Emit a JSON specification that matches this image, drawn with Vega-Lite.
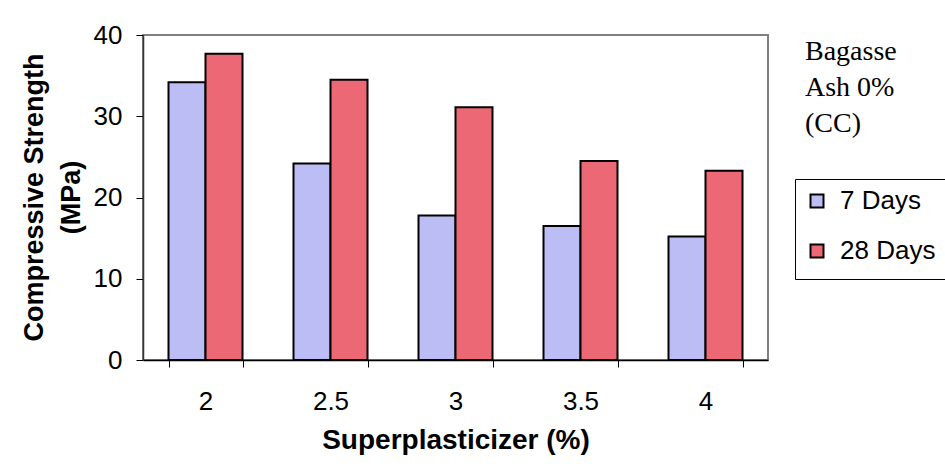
{
  "$schema": "https://vega.github.io/schema/vega-lite/v6.json",
  "width": 625,
  "height": 325,
  "autosize": {"type": "none"},
  "padding": {"left": 143, "top": 35, "right": 177, "bottom": 107},
  "background": "white",
  "title": {
    "text": ["Bagasse", "Ash 0%", "(CC)"],
    "orient": "top",
    "anchor": "end",
    "frame": "group",
    "align": "left",
    "baseline": "top",
    "dx": 37,
    "offset": -116,
    "font": "Liberation Serif",
    "fontSize": 28,
    "fontWeight": "normal",
    "lineHeight": 36,
    "color": "black"
  },
  "data": {
    "values": [
      {"superplasticizer": 2, "age": "7 Days", "strength": 34.2},
      {"superplasticizer": 2, "age": "28 Days", "strength": 37.7},
      {"superplasticizer": 2.5, "age": "7 Days", "strength": 24.2},
      {"superplasticizer": 2.5, "age": "28 Days", "strength": 34.5},
      {"superplasticizer": 3, "age": "7 Days", "strength": 17.8},
      {"superplasticizer": 3, "age": "28 Days", "strength": 31.1},
      {"superplasticizer": 3.5, "age": "7 Days", "strength": 16.5},
      {"superplasticizer": 3.5, "age": "28 Days", "strength": 24.5},
      {"superplasticizer": 4, "age": "7 Days", "strength": 15.2},
      {"superplasticizer": 4, "age": "28 Days", "strength": 23.3}
    ]
  },
  "mark": {"type": "bar", "stroke": "black", "strokeWidth": 2},
  "encoding": {
    "x": {
      "field": "superplasticizer",
      "type": "ordinal",
      "scale": {"paddingInner": 0.408, "paddingOuter": 0.204},
      "axis": {
        "title": "Superplasticizer (%)",
        "labelAngle": 0,
        "labelFont": "Liberation Sans",
        "labelFontSize": 26,
        "labelColor": "black",
        "labelPadding": 21,
        "tickBand": "extent",
        "tickSize": 7,
        "tickColor": "black",
        "domainColor": "black",
        "domainWidth": 1.5,
        "titleFont": "Liberation Sans",
        "titleFontSize": 28,
        "titleFontWeight": "bold",
        "titleColor": "black",
        "titleBaseline": "middle",
        "titleY": 80
      }
    },
    "xOffset": {"field": "age", "type": "nominal", "sort": ["7 Days", "28 Days"]},
    "y": {
      "field": "strength",
      "type": "quantitative",
      "scale": {"domain": [0, 40], "nice": false},
      "axis": {
        "values": [0, 10, 20, 30, 40],
        "grid": false,
        "title": ["Compressive Strength", "(MPa)"],
        "labelFont": "Liberation Sans",
        "labelFontSize": 26,
        "labelColor": "black",
        "labelPadding": 14,
        "tickSize": 7,
        "tickColor": "black",
        "domainColor": "#333333",
        "domainWidth": 1.5,
        "titleFont": "Liberation Sans",
        "titleFontSize": 27,
        "titleFontWeight": "bold",
        "titleColor": "black",
        "titleLineHeight": 37,
        "titleAngle": -90,
        "titleAlign": "center",
        "titleBaseline": "middle",
        "titleX": -109,
        "titleY": 162
      }
    },
    "color": {
      "field": "age",
      "type": "nominal",
      "sort": ["7 Days", "28 Days"],
      "scale": {"domain": ["7 Days", "28 Days"], "range": ["#bdbdf6", "#ec6874"]},
      "legend": {
        "title": " ",
        "titleOrient": "bottom",
        "titleFontSize": 4,
        "titlePadding": 2,
        "orient": "none",
        "legendX": 652,
        "legendY": 144,
        "padding": 9,
        "strokeColor": "black",
        "fillColor": "white",
        "symbolType": "square",
        "symbolSize": 169,
        "symbolStrokeColor": "black",
        "symbolStrokeWidth": 2,
        "symbolOpacity": 1,
        "labelFont": "Liberation Sans",
        "labelFontSize": 26,
        "labelColor": "black",
        "labelOffset": 10,
        "rowPadding": 24
      }
    }
  },
  "config": {
    "view": {"stroke": "#808080", "strokeWidth": 2}
  }
}
